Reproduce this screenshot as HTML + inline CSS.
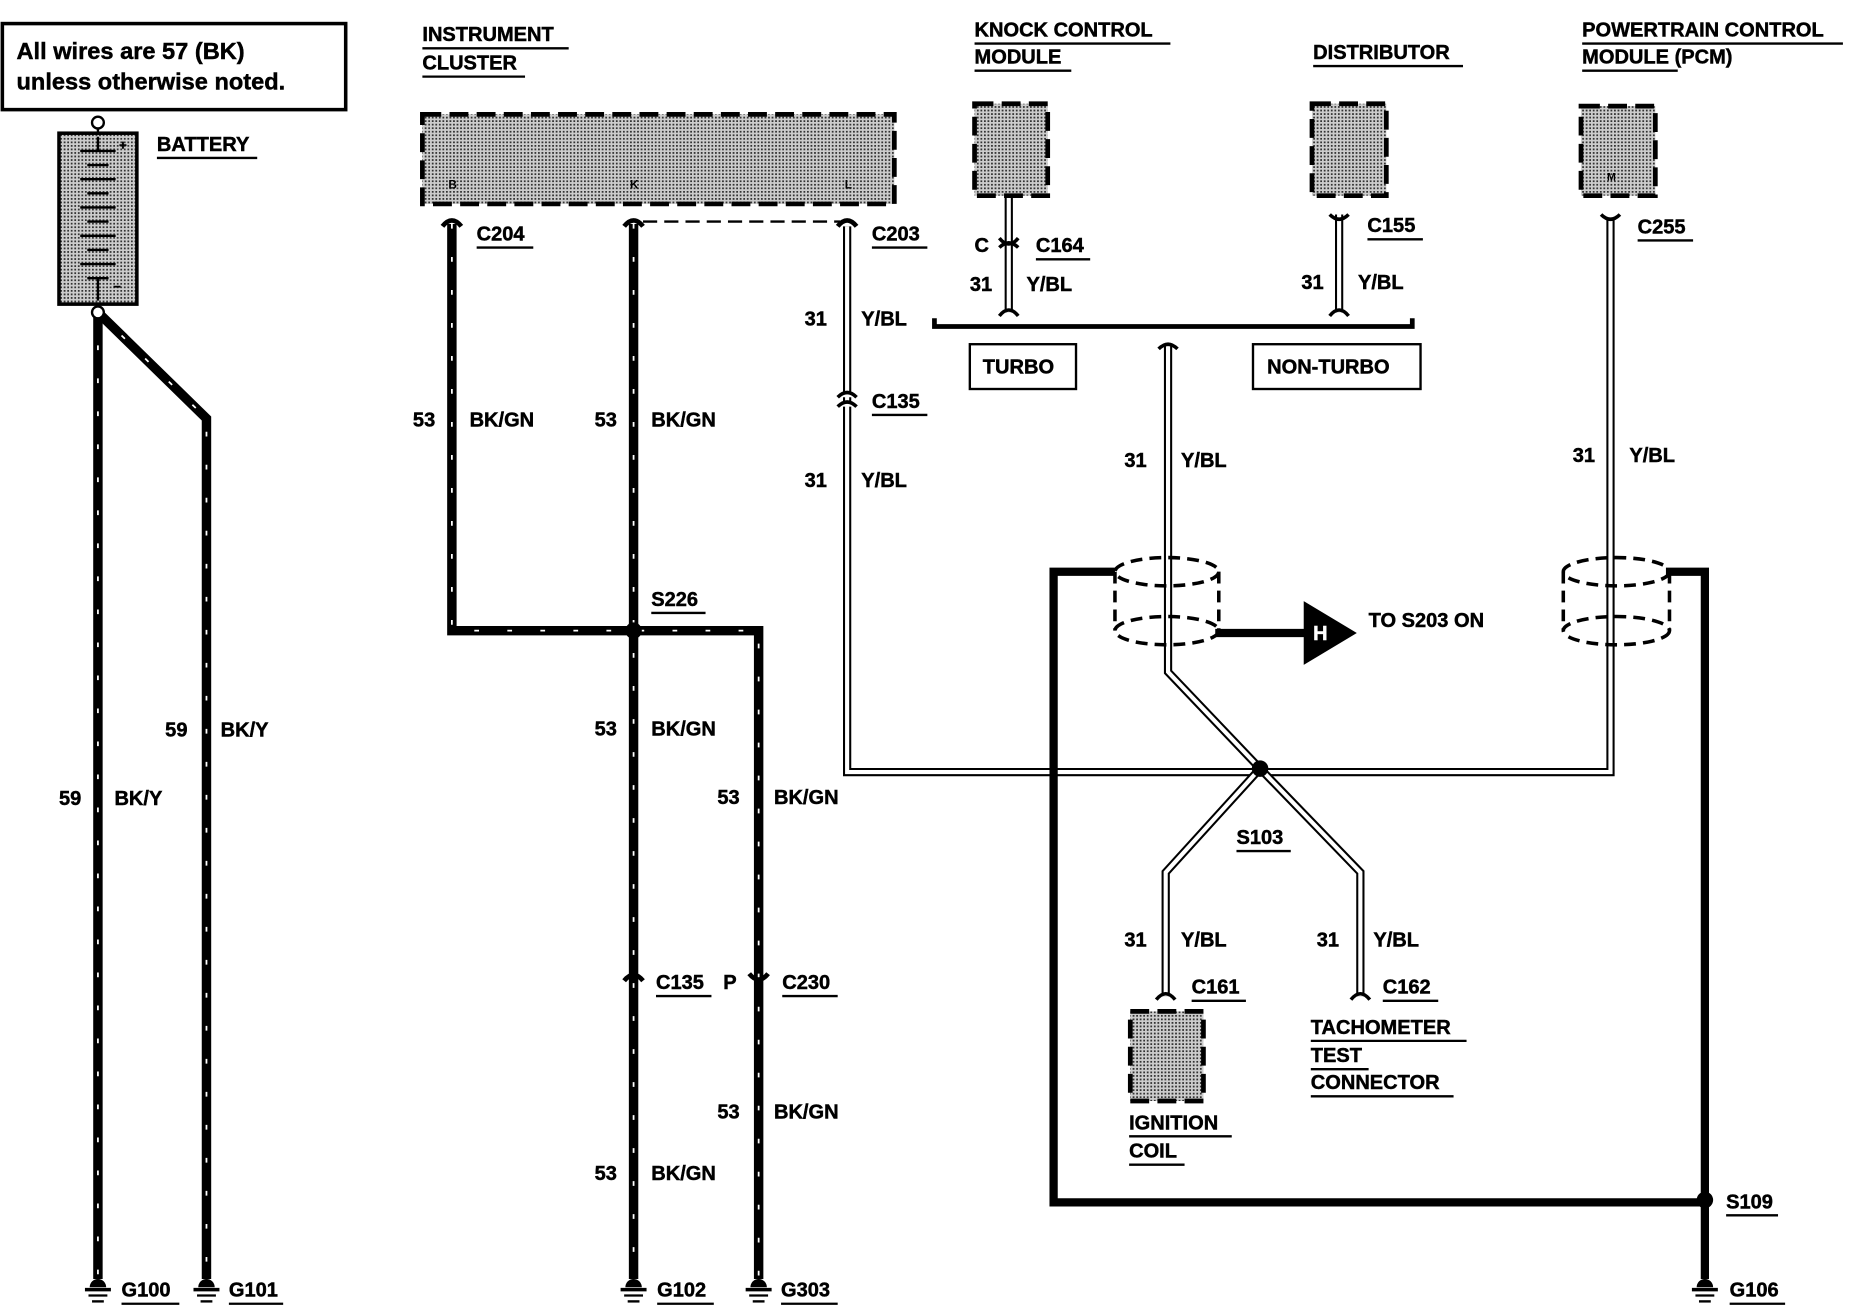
<!DOCTYPE html>
<html><head><meta charset="utf-8"><style>
html,body{margin:0;padding:0;background:#fff;}
svg{display:block;}
text{font-family:"Liberation Sans",Arial,sans-serif;font-weight:bold;font-size:17px;fill:#000;stroke:#000;stroke-width:0.4;}
.bw{stroke:#000;stroke-width:8;fill:none;}
.bh{stroke:#fff;stroke-width:1.5;fill:none;stroke-dasharray:4 24;}
.yw{stroke:#000;stroke-width:7;fill:none;}
.yh{stroke:#fff;stroke-width:3.5;fill:none;}
.box{fill:url(#dots);stroke:#000;stroke-width:4;stroke-dasharray:16 7;}
.ul{stroke:#000;stroke-width:2;}
</style></head><body>
<svg width="1850" height="1312" viewBox="0 0 1568 1113" preserveAspectRatio="none" xmlns="http://www.w3.org/2000/svg">
<defs>
<pattern id="dots" width="3" height="3" patternUnits="userSpaceOnUse"><rect width="3" height="3" fill="#ccc"/><rect width="1.5" height="1.5" fill="#333"/></pattern>
<g id="gnd"><path d="M-7,0 a7,7 0 0 1 14,0 z" fill="#000"/><line x1="-11" y1="2" x2="11" y2="2" stroke="#000" stroke-width="3"/><line x1="-8" y1="7" x2="8" y2="7" stroke="#000" stroke-width="2"/><line x1="-5" y1="12" x2="5" y2="12" stroke="#000" stroke-width="2"/></g>
</defs>

<rect x="2" y="20" width="291" height="73" fill="#fff" stroke="#000" stroke-width="3"/>
<text x="14" y="50" style="font-size:20px">All wires are 57 (BK)</text>
<text x="14" y="76" style="font-size:20px">unless otherwise noted.</text>

<circle cx="83" cy="104" r="5" fill="#fff" stroke="#000" stroke-width="2"/>
<line x1="83" y1="109" x2="83" y2="113" stroke="#000" stroke-width="2"/>
<rect x="50" y="113" width="66" height="145" fill="url(#dots)" stroke="#000" stroke-width="3"/>
<g stroke="#000" stroke-width="2">
<line x1="68" y1="128" x2="98" y2="128"/><line x1="74" y1="140" x2="92" y2="140"/>
<line x1="68" y1="152" x2="98" y2="152"/><line x1="74" y1="164" x2="92" y2="164"/>
<line x1="68" y1="176" x2="98" y2="176"/><line x1="74" y1="188" x2="92" y2="188"/>
<line x1="68" y1="200" x2="98" y2="200"/><line x1="74" y1="212" x2="92" y2="212"/>
<line x1="68" y1="224" x2="98" y2="224"/><line x1="74" y1="236" x2="92" y2="236"/>
<line x1="83" y1="116" x2="83" y2="128"/><line x1="83" y1="236" x2="83" y2="255"/>
</g>
<text x="101" y="127" style="font-size:11px">+</text><text x="96" y="247" style="font-size:11px">−</text>
<text x="133" y="128">BATTERY</text><line class="ul" x1="133" y1="134" x2="218" y2="134"/>

<path class="bw" d="M83,265 V1085"/><path class="bh" d="M83,265 V1085"/>
<path class="bw" d="M83,265 L175,355 V1085"/><path class="bh" d="M83,265 L175,355 V1085"/>
<circle cx="83" cy="265" r="5" fill="#fff" stroke="#000" stroke-width="2"/>
<text x="50" y="683">59</text><text x="97" y="683">BK/Y</text>
<text x="140" y="625">59</text><text x="187" y="625">BK/Y</text>
<use href="#gnd" x="83" y="1092"/><text x="103" y="1100">G100</text><line class="ul" x1="103" y1="1106" x2="152" y2="1106"/>
<use href="#gnd" x="175" y="1092"/><text x="194" y="1100">G101</text><line class="ul" x1="194" y1="1106" x2="240" y2="1106"/>

<text x="358" y="35">INSTRUMENT</text><line class="ul" x1="358" y1="41" x2="482" y2="41"/>
<text x="358" y="59">CLUSTER</text><line class="ul" x1="358" y1="65" x2="445" y2="65"/>
<rect class="box" x="358" y="97" width="400" height="76"/>
<text x="380" y="160" style="font-size:10px;stroke-width:0">B</text><text x="534" y="160" style="font-size:10px;stroke-width:0">K</text><text x="716" y="160" style="font-size:10px;stroke-width:0">L</text>

<path class="bw" d="M383,190 V535 H643 V1085"/><path class="bh" d="M383,190 V535 H643 V1085"/>
<path class="bw" d="M537,190 V1085"/><path class="bh" d="M537,190 V1085"/>
<path d="M375,192 q8,-10 16,0 M529,192 q8,-10 16,0 M710,192 q8,-10 16,0" stroke="#000" stroke-width="4" fill="none"/>
<line x1="545" y1="188" x2="712" y2="188" stroke="#000" stroke-width="2" stroke-dasharray="12 6"/>
<circle cx="537" cy="535" r="7" fill="#000"/>
<text x="404" y="204">C204</text><line class="ul" x1="404" y1="210" x2="452" y2="210"/>
<text x="739" y="204">C203</text><line class="ul" x1="739" y1="210" x2="786" y2="210"/>
<text x="350" y="362">53</text><text x="398" y="362">BK/GN</text>
<text x="504" y="362">53</text><text x="552" y="362">BK/GN</text>
<text x="552" y="514">S226</text><line class="ul" x1="552" y1="520" x2="598" y2="520"/>
<text x="504" y="624">53</text><text x="552" y="624">BK/GN</text>
<text x="608" y="682">53</text><text x="656" y="682">BK/GN</text>
<text x="608" y="949">53</text><text x="656" y="949">BK/GN</text>
<text x="504" y="1001">53</text><text x="552" y="1001">BK/GN</text>
<path d="M529,832 q8,-10 16,0 M635,826 q8,10 16,0" stroke="#000" stroke-width="4" fill="none"/>
<text x="556" y="839">C135</text><line class="ul" x1="556" y1="845" x2="603" y2="845"/>
<text x="613" y="839">P</text>
<text x="663" y="839">C230</text><line class="ul" x1="663" y1="845" x2="710" y2="845"/>
<use href="#gnd" x="537" y="1092"/><text x="557" y="1100">G102</text><line class="ul" x1="557" y1="1106" x2="605" y2="1106"/>
<use href="#gnd" x="643" y="1092"/><text x="662" y="1100">G303</text><line class="ul" x1="662" y1="1106" x2="710" y2="1106"/>

<path class="yw" d="M718,192 V655 H1365 V185"/><path class="yh" d="M718,192 V655 H1365 V185"/>
<path d="M710,337 q8,-8 16,0 M710,345 q8,-8 16,0" stroke="#000" stroke-width="3" fill="#fff"/>
<text x="682" y="276">31</text><text x="730" y="276">Y/BL</text>
<text x="739" y="346">C135</text><line class="ul" x1="739" y1="352" x2="786" y2="352"/>
<text x="682" y="413">31</text><text x="730" y="413">Y/BL</text>

<text x="826" y="31">KNOCK CONTROL</text><line class="ul" x1="826" y1="37" x2="992" y2="37"/>
<text x="826" y="54">MODULE</text><line class="ul" x1="826" y1="60" x2="908" y2="60"/>
<rect class="box" x="826" y="88" width="62" height="78"/>
<text x="1113" y="50">DISTRIBUTOR</text><line class="ul" x1="1113" y1="56" x2="1240" y2="56"/>
<rect class="box" x="1112" y="88" width="63" height="78"/>
<text x="1341" y="31">POWERTRAIN CONTROL</text><line class="ul" x1="1341" y1="37" x2="1562" y2="37"/>
<text x="1341" y="54">MODULE (PCM)</text><line class="ul" x1="1341" y1="60" x2="1422" y2="60"/>
<rect class="box" x="1340" y="90" width="63" height="76"/>
<text x="1362" y="153" style="font-size:9px;stroke-width:0">M</text>

<path class="yw" d="M855,168 V265"/><path class="yh" d="M855,168 V265"/>
<path d="M847,202 q8,10 16,0 M847,210 q8,-8 16,0 M847,268 q8,-10 16,0" stroke="#000" stroke-width="3" fill="none"/>
<text x="826" y="214">C</text>
<text x="878" y="214">C164</text><line class="ul" x1="878" y1="220" x2="924" y2="220"/>
<text x="822" y="247">31</text><text x="870" y="247">Y/BL</text>
<path class="yw" d="M1135,182 V265"/><path class="yh" d="M1135,182 V265"/>
<path d="M1127,182 q8,8 16,0 M1127,268 q8,-10 16,0 M1357,182 q8,8 16,0" stroke="#000" stroke-width="3" fill="none"/>
<text x="1159" y="197">C155</text><line class="ul" x1="1159" y1="203" x2="1206" y2="203"/>
<text x="1103" y="245">31</text><text x="1151" y="245">Y/BL</text>
<text x="1388" y="198">C255</text><line class="ul" x1="1388" y1="204" x2="1435" y2="204"/>
<text x="1333" y="392">31</text><text x="1381" y="392">Y/BL</text>

<path d="M792,270 V277 H1197 V270" stroke="#000" stroke-width="4" fill="none"/>
<rect x="822" y="292" width="90" height="38" fill="#fff" stroke="#000" stroke-width="2"/>
<text x="833" y="317">TURBO</text>
<rect x="1062" y="292" width="142" height="38" fill="#fff" stroke="#000" stroke-width="2"/>
<text x="1074" y="317">NON-TURBO</text>

<path class="yw" d="M990,293 V570 L1068,652 L988,740 V845 M1068,652 L1153,740 V845"/>
<path class="yh" d="M990,293 V570 L1068,652 L988,740 V845 M1068,652 L1153,740 V845"/>
<path d="M982,296 q8,-8 16,0 M980,848 q8,-10 16,0 M1145,848 q8,-10 16,0" stroke="#000" stroke-width="3" fill="none"/>
<text x="953" y="396">31</text><text x="1001" y="396">Y/BL</text>
<circle cx="1068" cy="652" r="7" fill="#000"/>
<text x="1048" y="716">S103</text><line class="ul" x1="1048" y1="722" x2="1094" y2="722"/>
<text x="953" y="803">31</text><text x="1001" y="803">Y/BL</text>
<text x="1116" y="803">31</text><text x="1164" y="803">Y/BL</text>
<text x="1010" y="843">C161</text><line class="ul" x1="1010" y1="849" x2="1056" y2="849"/>
<text x="1172" y="843">C162</text><line class="ul" x1="1172" y1="849" x2="1219" y2="849"/>
<rect class="box" x="958" y="858" width="62" height="76"/>
<text x="957" y="958">IGNITION</text><line class="ul" x1="957" y1="964" x2="1044" y2="964"/>
<text x="957" y="982">COIL</text><line class="ul" x1="957" y1="988" x2="1004" y2="988"/>
<text x="1111" y="877">TACHOMETER</text><line class="ul" x1="1111" y1="883" x2="1243" y2="883"/>
<text x="1111" y="901">TEST</text><line class="ul" x1="1111" y1="907" x2="1160" y2="907"/>
<text x="1111" y="924">CONNECTOR</text><line class="ul" x1="1111" y1="930" x2="1232" y2="930"/>

<path d="M945,485 H893 V1020 H1445 V485 H1412" stroke="#000" stroke-width="7" fill="none"/>
<g fill="none" stroke="#000" stroke-width="3" stroke-dasharray="10 6">
<ellipse cx="989" cy="485" rx="44" ry="12"/><ellipse cx="989" cy="535" rx="44" ry="12"/>
<line x1="945" y1="485" x2="945" y2="535"/><line x1="1033" y1="485" x2="1033" y2="535"/>
<ellipse cx="1370" cy="485" rx="45" ry="12"/><ellipse cx="1370" cy="535" rx="45" ry="12"/>
<line x1="1325" y1="485" x2="1325" y2="535"/><line x1="1415" y1="485" x2="1415" y2="535"/>
</g>
<line x1="1030" y1="537" x2="1108" y2="537" stroke="#000" stroke-width="7"/>
<polygon points="1105,510 1150,537 1105,564" fill="#000"/>
<text x="1113" y="543" style="fill:#fff;stroke:#fff">H</text>
<text x="1160" y="532">TO S203 ON</text>
<circle cx="1445" cy="1018" r="7" fill="#000"/>
<line x1="1445" y1="1020" x2="1445" y2="1085" stroke="#000" stroke-width="7"/>
<text x="1463" y="1025">S109</text><line class="ul" x1="1463" y1="1031" x2="1507" y2="1031"/>
<use href="#gnd" x="1445" y="1092"/><text x="1466" y="1100">G106</text><line class="ul" x1="1466" y1="1106" x2="1513" y2="1106"/>
</svg>
</body></html>
